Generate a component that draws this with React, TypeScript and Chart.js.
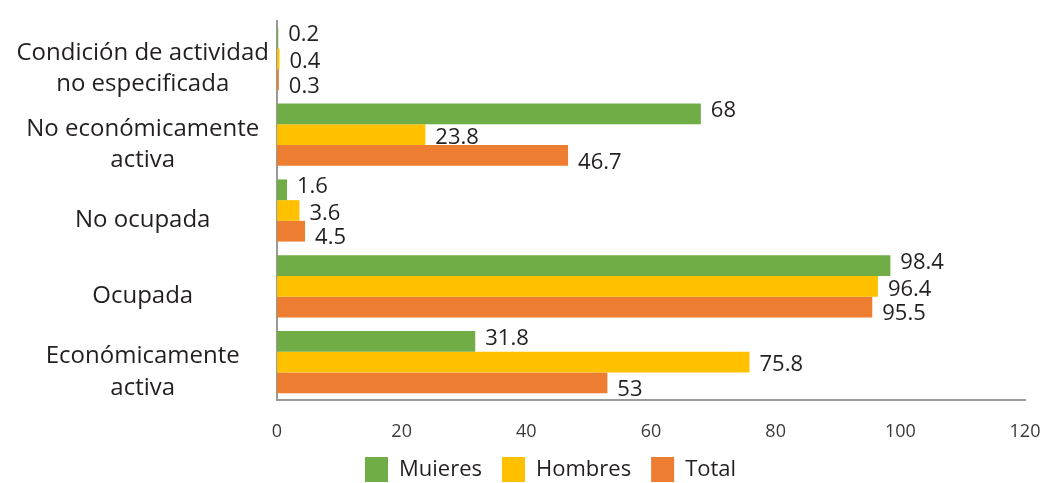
import React, { useEffect, useRef } from "react";
import { Chart, registerables } from "chart.js";

Chart.register(...registerables);

// ---- Data ----
const categories: (string | string[])[] = [
  ["Condición de actividad", "no especificada"],
  ["No económicamente", "activa"],
  "No ocupada",
  "Ocupada",
  ["Económicamente", "activa"],
];
const mujeres = [0.2, 68, 1.6, 98.4, 31.8];
const hombres = [0.4, 23.8, 3.6, 96.4, 75.8];
const total = [0.3, 46.7, 4.5, 95.5, 53];
const seriesNames = ["Muieres", "Hombres", "Total"];
const xTicks = [0, 20, 40, 60, 80, 100, 120];

const FONT = "'Open Sans', 'Noto Sans', sans-serif";
const TEXT = "#231f20";

const valueLabels = {
  id: "valueLabels",
  afterDatasetsDraw(chart: any) {
    const ctx = chart.ctx;
    ctx.save();
    ctx.font = `22px ${FONT}`;
    ctx.fillStyle = TEXT;
    ctx.textAlign = "left";
    ctx.textBaseline = "middle";
    const offs = [-3, 3, 7];
    chart.data.datasets.forEach((ds: any, di: number) => {
      const meta = chart.getDatasetMeta(di);
      meta.data.forEach((bar: any, i: number) => {
        ctx.fillText(String(ds.data[i]), bar.x + 10, bar.y + offs[di]);
      });
    });
    ctx.restore();
  },
};

const legendShift = {
  id: "legendShift",
  afterLayout(chart: any) {
    const lg = chart.legend;
    if (!lg || !lg.lineWidths) return;
    const pad = lg.options.labels.padding;
    const start = (lg.left + pad + lg.right - lg.lineWidths[0]) / 2;
    const dx = 365 - start;
    const dy = 457 - (lg.top + pad);
    lg.left += dx;
    lg.right += dx;
    lg.top += dy;
    lg.bottom += dy;
  },
};

export default function App() {
  const ref = useRef<HTMLCanvasElement>(null);

  useEffect(() => {
    if (!ref.current) return;
    const chart = new Chart(ref.current, {
      type: "bar",
      data: {
        labels: categories,
        datasets: [
          { label: seriesNames[0], data: mujeres, backgroundColor: "#70ad47", borderWidth: 0 },
          { label: seriesNames[1], data: hombres, backgroundColor: "#ffc000", borderWidth: 0 },
          { label: seriesNames[2], data: total, backgroundColor: "#ed7d31", borderWidth: 0 },
        ],
      },
      options: {
        indexAxis: "y",
        responsive: false,
        animation: false,
        categoryPercentage: 0.82,
        barPercentage: 1.0,
        layout: { padding: { top: 21, right: 26, left: 0, bottom: -14 } },
        plugins: {
          tooltip: { enabled: false },
          legend: {
            position: "bottom",
            labels: {
              boxWidth: 23,
              boxHeight: 25,
              padding: 20,
              color: TEXT,
              font: { family: FONT, size: 22 },
            },
          },
        },
        scales: {
          x: {
            min: xTicks[0],
            max: xTicks[xTicks.length - 1],
            grid: { display: false, drawTicks: false },
            border: { display: true, color: "#9a9a9a", width: 2 },
            ticks: {
              stepSize: xTicks[1] - xTicks[0],
              padding: 21,
              color: "#3a3a3a",
              font: { family: FONT, size: 18 },
            },
            afterFit(scale: any) {
              scale.height = 42;
              scale.paddingLeft = 0;
              scale.paddingRight = 0;
            },
          },
          y: {
            grid: { display: false, drawTicks: false },
            border: { display: true, color: "#9a9a9a", width: 2 },
            ticks: {
              crossAlign: "center",
              padding: 8,
              labelOffset: 10,
              color: TEXT,
              font: { family: FONT, size: 24, lineHeight: 1.3 },
            },
            afterFit(scale: any) {
              scale.width = 277;
              scale.paddingTop = 0;
              scale.paddingBottom = 0;
            },
          },
        },
      },
      plugins: [valueLabels, legendShift],
    } as any);
    return () => chart.destroy();
  }, []);

  return (
    <div style={{ position: "fixed", left: 0, top: 0, width: 1051, height: 483, background: "#fff" }}>
      <canvas ref={ref} width={1051} height={483} />
    </div>
  );
}
